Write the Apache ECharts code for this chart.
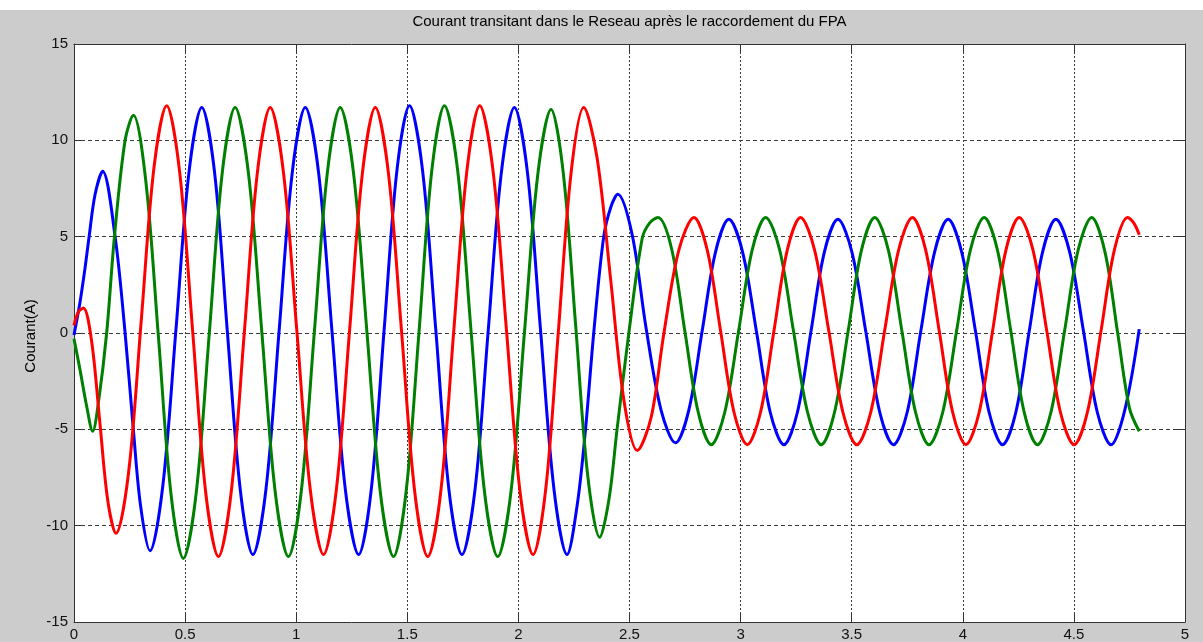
<!DOCTYPE html>
<html>
<head>
<meta charset="utf-8">
<title>Courant transitant dans le Reseau</title>
<script src="https://cdn.jsdelivr.net/npm/echarts@6/dist/echarts.min.js"></script>
<style>
  html, body { margin: 0; padding: 0; background: #ffffff; }
  #chart { position: absolute; left: 0; top: 10px; width: 1203px; height: 632px; background: #cccccc; }
</style>
</head>
<body>
<div id="chart"></div>
<script>
// Phase currents (time in s, current in A)
const phaseA = [
  [0.000,-0.1],[0.027,1.6],[0.050,3.4],[0.068,5.0],[0.095,7.2],[0.129,8.4],
  [0.185,5.0],[0.230,0.0],[0.267,-5.0],[0.300,-9.0],[0.342,-11.3],
  [0.400,-7.9],[0.459,0.2],[0.517,8.3],[0.575,11.7],
  [0.633,8.3],[0.690,0.1],[0.748,-8.1],[0.805,-11.5],
  [0.864,-8.1],[0.923,0.1],[0.982,8.3],[1.041,11.7],
  [1.101,8.3],[1.161,0.1],[1.221,-8.1],[1.281,-11.5],
  [1.338,-8.1],[1.396,0.2],[1.453,8.4],[1.510,11.8],
  [1.569,8.4],[1.628,0.2],[1.687,-8.1],[1.746,-11.5],
  [1.805,-8.1],[1.864,0.1],[1.923,8.3],[1.982,11.7],
  [2.041,8.3],[2.100,0.1],[2.160,-8.1],[2.219,-11.5],
  [2.265,-8.9],[2.302,-5.0],[2.339,0.0],[2.384,5.0],[2.418,6.6],[2.447,7.2],
  [2.512,5.1],[2.574,0.3],[2.642,-4.0],[2.707,-5.7],
  [2.767,-4.0],[2.827,0.1],[2.887,4.2],[2.947,5.9],
  [3.009,4.2],[3.071,0.1],[3.133,-4.1],[3.195,-5.8],
  [3.256,-4.1],[3.317,0.1],[3.377,4.2],[3.438,5.9],
  [3.501,4.2],[3.563,0.1],[3.626,-4.1],[3.688,-5.8],
  [3.750,-4.1],[3.811,0.1],[3.873,4.2],[3.934,5.9],
  [3.995,4.2],[4.057,0.1],[4.118,-4.1],[4.179,-5.8],
  [4.239,-4.1],[4.299,0.1],[4.359,4.2],[4.419,5.9],
  [4.481,4.2],[4.543,0.1],[4.605,-4.1],[4.667,-5.8],
  [4.729,-4.0],[4.794,0.2]
];

const phaseB = [
  [0.000,-0.3],[0.027,-1.9],[0.057,-3.8],[0.084,-5.1],
  [0.110,-3.6],[0.147,0.0],[0.182,5.0],[0.230,10.0],[0.267,11.3],
  [0.323,7.9],[0.380,-0.2],[0.436,-8.3],[0.492,-11.7],
  [0.550,-8.3],[0.609,0.0],[0.667,8.3],[0.725,11.7],
  [0.785,8.3],[0.845,0.1],[0.905,-8.2],[0.965,-11.6],
  [1.023,-8.2],[1.082,0.1],[1.140,8.3],[1.198,11.7],
  [1.258,8.3],[1.318,0.1],[1.378,-8.2],[1.438,-11.6],
  [1.495,-8.2],[1.553,0.1],[1.610,8.4],[1.667,11.8],
  [1.727,8.4],[1.787,0.1],[1.847,-8.2],[1.907,-11.6],
  [1.967,-8.2],[2.027,0.0],[2.087,8.2],[2.147,11.6],
  [2.202,8.3],[2.257,0.5],[2.311,-7.3],[2.366,-10.6],
  [2.408,-8.6],[2.444,-5.0],[2.497,0.0],[2.557,4.9],[2.590,5.7],[2.628,6.0],
  [2.689,4.4],[2.749,0.1],[2.809,-4.1],[2.868,-5.8],
  [2.929,-4.1],[2.991,0.1],[3.052,4.3],[3.113,6.0],
  [3.176,4.3],[3.238,0.1],[3.301,-4.1],[3.363,-5.8],
  [3.423,-4.1],[3.484,0.1],[3.544,4.3],[3.604,6.0],
  [3.665,4.3],[3.726,0.1],[3.787,-4.1],[3.848,-5.8],
  [3.910,-4.1],[3.972,0.1],[4.034,4.3],[4.096,6.0],
  [4.156,4.3],[4.216,0.1],[4.276,-4.1],[4.336,-5.8],
  [4.397,-4.1],[4.458,0.1],[4.519,4.3],[4.580,6.0],
  [4.640,4.2],[4.697,0.0],[4.750,-3.9],[4.794,-5.1]
];

const phaseC = [
  [0.000,0.4],[0.020,1.1],[0.042,1.3],
  [0.079,-0.4],[0.116,-4.6],[0.152,-8.7],[0.189,-10.4],
  [0.246,-7.2],[0.303,0.7],[0.360,8.6],[0.417,11.8],
  [0.475,8.4],[0.534,0.1],[0.592,-8.2],[0.650,-11.6],
  [0.708,-8.2],[0.767,0.1],[0.825,8.3],[0.883,11.7],
  [0.943,8.3],[1.003,0.1],[1.063,-8.1],[1.123,-11.5],
  [1.181,-8.1],[1.240,0.1],[1.298,8.3],[1.356,11.7],
  [1.415,8.3],[1.474,0.1],[1.533,-8.2],[1.592,-11.6],
  [1.651,-8.2],[1.709,0.1],[1.768,8.4],[1.826,11.8],
  [1.886,8.4],[1.946,0.2],[2.006,-8.1],[2.066,-11.5],
  [2.123,-8.1],[2.180,0.1],[2.237,8.3],[2.294,11.7],
  [2.354,9.1],[2.415,2.8],[2.475,-3.5],[2.535,-6.1],
  [2.597,-4.4],[2.655,0.0],[2.722,4.3],[2.790,6.0],
  [2.850,4.3],[2.910,0.1],[2.970,-4.1],[3.030,-5.8],
  [3.090,-4.1],[3.150,0.1],[3.210,4.3],[3.270,6.0],
  [3.333,4.3],[3.397,0.1],[3.460,-4.1],[3.523,-5.8],
  [3.586,-4.1],[3.648,0.1],[3.711,4.3],[3.773,6.0],
  [3.833,4.3],[3.894,0.1],[3.954,-4.1],[4.014,-5.8],
  [4.074,-4.1],[4.134,0.1],[4.194,4.3],[4.254,6.0],
  [4.316,4.3],[4.378,0.1],[4.439,-4.1],[4.501,-5.8],
  [4.561,-4.1],[4.622,0.1],[4.682,4.3],[4.742,6.0],
  [4.770,5.7],[4.794,5.1]
];

const titleText = 'Courant transitant dans le Reseau après le raccordement du FPA';
const yLabelText = 'Courant(A)';
const xRange = [0, 5];
const yRange = [-15, 15];

const FONT = '"Liberation Sans", Arial, Helvetica, sans-serif';
const GRID = { left: 74, top: 34, right: 18, bottom: 19 };

const chart = echarts.init(document.getElementById('chart'), null, { renderer: 'canvas' });

// Unlabelled axes on the top and right close the frame and carry inward ticks
function frameAxis(position, isX) {
  return {
    type: 'value',
    position: position,
    min: isX ? xRange[0] : yRange[0],
    max: isX ? xRange[1] : yRange[1],
    interval: isX ? 0.5 : 5,
    axisLine: { show: true, onZero: false, lineStyle: { color: '#333333', width: 1 } },
    axisTick: { show: true, inside: true, length: 8, lineStyle: { color: '#333333', width: 1 } },
    axisLabel: { show: false },
    splitLine: { show: false }
  };
}

const option = {
  animation: false,
  backgroundColor: '#cccccc',
  grid: {
    left: GRID.left, top: GRID.top, right: GRID.right, bottom: GRID.bottom,
    show: true, backgroundColor: '#ffffff', borderWidth: 0
  },
  xAxis: [
    {
      type: 'value',
      position: 'bottom',
      min: xRange[0], max: xRange[1], interval: 0.5,
      axisLine: { show: true, onZero: false, lineStyle: { color: '#333333', width: 1 } },
      axisTick: { show: true, inside: true, length: 8, lineStyle: { color: '#333333', width: 1 } },
      axisLabel: { color: '#111111', fontFamily: FONT, fontSize: 15, margin: 5, showMinLabel: true, showMaxLabel: true },
      splitLine: { show: true, lineStyle: { color: '#3a3a3a', width: 1, type: [2, 2] } }
    },
    frameAxis('top', true)
  ],
  yAxis: [
    {
      type: 'value',
      position: 'left',
      min: yRange[0], max: yRange[1], interval: 5,
      axisLine: { show: true, onZero: false, lineStyle: { color: '#333333', width: 1 } },
      axisTick: { show: true, inside: true, length: 8, lineStyle: { color: '#333333', width: 1 } },
      axisLabel: { color: '#111111', fontFamily: FONT, fontSize: 15, margin: 6 },
      splitLine: { show: true, lineStyle: { color: '#3a3a3a', width: 1, type: [4, 3] } }
    },
    frameAxis('right', false)
  ],
  graphic: [
    {
      type: 'text',
      x: 629.5, y: 12,
      style: {
        text: titleText, fill: '#000000', font: '15px ' + FONT,
        align: 'center', verticalAlign: 'middle', textAlign: 'center', textVerticalAlign: 'middle'
      }
    },
    {
      type: 'text',
      x: 31, y: 326,
      rotation: Math.PI / 2,
      style: {
        text: yLabelText, fill: '#000000', font: '15px ' + FONT,
        align: 'center', verticalAlign: 'middle', textAlign: 'center', textVerticalAlign: 'middle'
      }
    }
  ],
  series: [
    { name: 'ia', type: 'line', data: phaseA, color: '#0000ff' },
    { name: 'ib', type: 'line', data: phaseB, color: '#008000' },
    { name: 'ic', type: 'line', data: phaseC, color: '#ff0000' }
  ].map(function (s) {
    return Object.assign(s, {
      xAxisIndex: 0, yAxisIndex: 0,
      showSymbol: false, symbol: 'none',
      smooth: 0.33,
      lineStyle: { width: 3, color: s.color },
      emphasis: { disabled: true }
    });
  })
};

chart.setOption(option);
</script>
</body>
</html>
